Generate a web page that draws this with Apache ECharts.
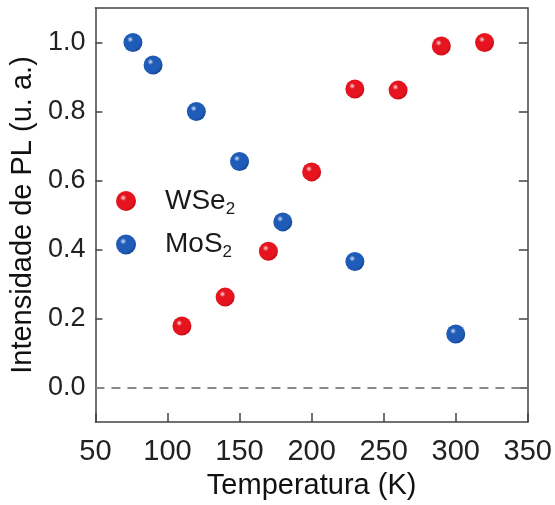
<!DOCTYPE html>
<html>
<head>
<meta charset="utf-8">
<script src="https://cdn.jsdelivr.net/npm/echarts@6/dist/echarts.min.js"></script>
<style>
  html, body { margin: 0; padding: 0; background: #fff; }
  #chart { width: 555px; height: 505px; }
</style>
</head>
<body>
<div id="chart"></div>
<script>
// PL intensity vs temperature for two monolayers
const wse2Temp = [110, 140, 170, 200, 230, 260, 290, 320];
const wse2Pl   = [0.178, 0.262, 0.395, 0.625, 0.865, 0.862, 0.99, 1.0];
const mos2Temp = [76, 90, 120, 150, 180, 230, 300];
const mos2Pl   = [1.0, 0.935, 0.80, 0.655, 0.48, 0.365, 0.155];
const xTicks = [50, 100, 150, 200, 250, 300, 350];
const yTicks = [0.0, 0.2, 0.4, 0.6, 0.8, 1.0];

const FONT = '"Liberation Sans", Arial, sans-serif';
const AXIS_COLOR = '#444';

// glossy ball fill: small highlight up-left, darker rim
function sphere(light, mid, dark) {
  return {
    type: 'radial', x: 0.36, y: 0.34, r: 0.72,
    colorStops: [
      { offset: 0, color: light },
      { offset: 0.22, color: mid },
      { offset: 0.75, color: mid },
      { offset: 1, color: dark }
    ]
  };
}
const redBall = sphere('#fbe1e2', '#e5141e', '#c00a14');
const blueBall = sphere('#d6e3f7', '#1f5cb8', '#14418d');

const pairs = (xs, ys) => xs.map((x, i) => [x, ys[i]]);
const frameLine = { show: true, onZero: false, lineStyle: { color: AXIS_COLOR, width: 1.5 } };

const chart = echarts.init(document.getElementById('chart'), null, { renderer: 'canvas' });
chart.setOption({
  animation: false,
  backgroundColor: '#fff',
  grid: { left: 93, right: 26, top: 8, bottom: 81, containLabel: false },
  legend: {
    orient: 'vertical',
    left: 111, top: 182,
    itemWidth: 20, itemHeight: 20, itemGap: 13,
    icon: 'circle',
    data: ['WSe2', 'MoS2'],
    formatter: name => name === 'WSe2' ? '{a|WSe}{s|2}' : '{a|MoS}{s|2}',
    textStyle: {
      rich: {
        a: { fontFamily: FONT, fontSize: 28, color: '#1a1a1a', padding: [0, 0, 0, 24] },
        s: { fontFamily: FONT, fontSize: 17, color: '#1a1a1a', verticalAlign: 'bottom', padding: [16, 0, 0, 0] }
      }
    }
  },
  xAxis: [{
    type: 'value', min: 50, max: 350, interval: 50,
    name: 'Temperatura (K)', nameLocation: 'middle', nameGap: 49,
    nameTextStyle: { fontFamily: FONT, fontSize: 29, color: '#111' },
    axisLine: frameLine,
    axisTick: { show: true, inside: true, length: 9, lineStyle: { color: AXIS_COLOR, width: 1.5 } },
    axisLabel: { fontFamily: FONT, fontSize: 29, color: '#222', margin: 15,
      customValues: xTicks },
    splitLine: { show: false }
  }, {
    type: 'value', min: 50, max: 350, position: 'top',
    axisLine: frameLine,
    axisTick: { show: false }, axisLabel: { show: false }, splitLine: { show: false }
  }],
  yAxis: [{
    type: 'value', min: -0.1, max: 1.1,
    name: 'Intensidade de PL (u. a.)', nameLocation: 'middle', nameGap: 50,
    nameTextStyle: { fontFamily: FONT, fontSize: 29, color: '#111' },
    axisLine: frameLine,
    axisTick: { show: true, inside: true, length: 7, customValues: yTicks,
      lineStyle: { color: AXIS_COLOR, width: 1.5 } },
    axisLabel: { fontFamily: FONT, fontSize: 27, color: '#222', margin: 10,
      customValues: yTicks, formatter: v => v.toFixed(1) },
    splitLine: { show: false }
  }, {
    type: 'value', min: -0.1, max: 1.1, position: 'right',
    axisLine: frameLine,
    axisTick: { show: true, inside: true, length: 9, customValues: yTicks,
      lineStyle: { color: AXIS_COLOR, width: 1.5 } },
    axisLabel: { show: false }, splitLine: { show: false }
  }],
  series: [{
    name: 'WSe2', type: 'scatter', symbol: 'circle', symbolSize: 19,
    itemStyle: { color: redBall, opacity: 1 },
    data: pairs(wse2Temp, wse2Pl),
    markLine: {
      silent: true, symbol: 'none', label: { show: false },
      lineStyle: { color: '#888', type: [9, 7], width: 2 },
      data: [{ yAxis: 0 }]
    },
    z: 3
  }, {
    name: 'MoS2', type: 'scatter', symbol: 'circle', symbolSize: 19,
    itemStyle: { color: blueBall, opacity: 1 },
    data: pairs(mos2Temp, mos2Pl),
    z: 3
  }]
});
</script>
</body>
</html>
